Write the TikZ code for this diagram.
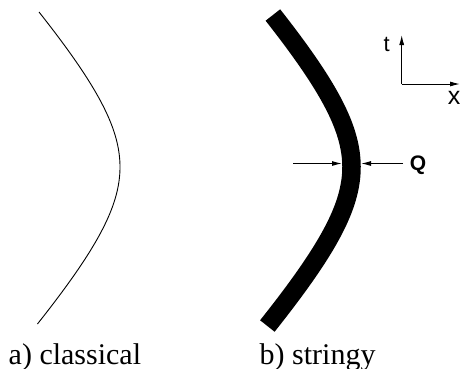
\documentclass[tikz,border=0pt]{standalone}
\usepackage{fontspec}
\setmainfont{Liberation Serif}
\newfontfamily\lblsans{Liberation Sans}
\usetikzlibrary{arrows.meta}
\tikzset{
  thinarrow/.style={line width=1pt,-{Latex[length=10pt,width=5pt]}},
  caption/.style={inner sep=0pt,anchor=base west,font=\fontsize{30}{36}\selectfont},
  axislbl/.style={inner sep=0pt,font=\lblsans\fontsize{22}{26}\selectfont}
}
\begin{document}
\begin{tikzpicture}[x=1pt,y=-1pt]
\useasboundingbox[fill=white] (0,0) rectangle (460,368);
% classical worldline
\draw[line width=0.9pt] plot[domain=-15.5:15.7,samples=120,variable=\t]
  ({120+84.8-10*sqrt(71.91+0.8447*\t*\t)},{167+10*\t});
% stringy worldline
\draw[line width=18.5pt,line cap=butt] plot[domain=-15.2:15.9,samples=120,variable=\t]
  ({351.5+84.8-10*sqrt(71.91+0.8447*\t*\t)},{167+10*\t});
% width arrows
\coordinate (la) at (293,163.5);
\coordinate (lt) at (342,163.5);
\coordinate (ra) at (403,163.5);
\coordinate (rt) at (361,163.5);
\draw[thinarrow] (la) -- (lt);
\draw[thinarrow] (ra) -- (rt);
\node[axislbl,font=\lblsans\bfseries\fontsize{21}{26}\selectfont] (q) at (418,165) {Q};
% axes
\coordinate (o) at (401.7,84);
\coordinate (tt) at (401.7,35);
\coordinate (xt) at (460,84);
\draw[thinarrow] (o) -- (tt);
\draw[thinarrow] (o) -- (xt);
\node[axislbl] (tl) at (386.7,44.5) {t};
\node[axislbl,font=\lblsans\fontsize{25}{28}\selectfont] (xl) at (454,98) {x};
% captions
\node[caption] (ca) at (8.5,364.5) {a) classical};
\node[caption] (cb) at (259.5,364.5) {b) stringy};
\end{tikzpicture}
\end{document}
